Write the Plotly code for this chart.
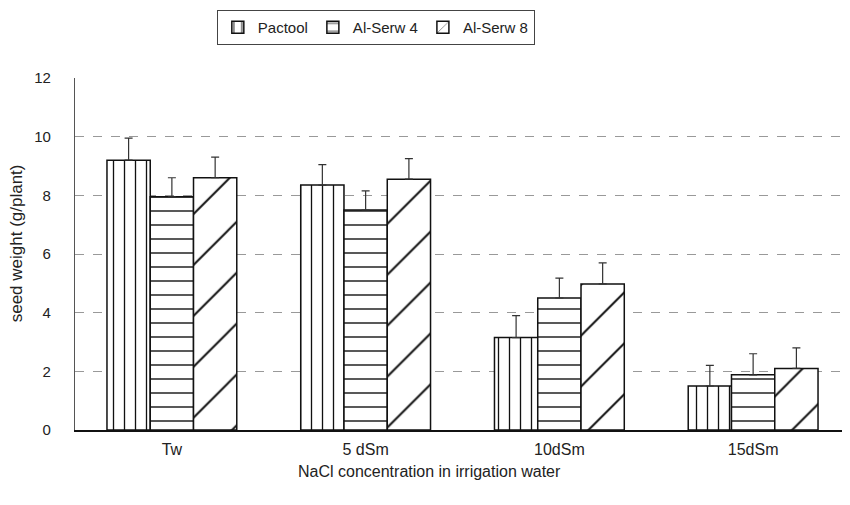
import plotly.graph_objects as go

categories = ["Tw", "5 dSm", "10dSm", "15dSm"]
series_names = ["Pactool", "Al-Serw 4", "Al-Serw 8"]
pactool = [9.2, 8.35, 3.15, 1.5]
alserw4 = [7.95, 7.5, 4.5, 1.88]
alserw8 = [8.6, 8.55, 4.98, 2.1]
err_pactool = [0.75, 0.7, 0.75, 0.7]
err_alserw4 = [0.65, 0.65, 0.68, 0.72]
err_alserw8 = [0.7, 0.7, 0.72, 0.7]
y_ticks = [0, 2, 4, 6, 8, 10, 12]
x_title = "NaCl concentration in irrigation water"
y_title = "seed weight (g/plant)"

values = [pactool, alserw4, alserw8]
errors = [err_pactool, err_alserw4, err_alserw8]
patterns = [
    dict(shape="|", size=11, solidity=0.12, fgcolor="#111", fgopacity=1, bgcolor="white"),
    dict(shape="-", size=14, solidity=0.1, fgcolor="#111", fgopacity=1, bgcolor="white"),
    dict(shape="/", size=36, solidity=0.055, fgcolor="#111", fgopacity=1, bgcolor="white"),
]

fig = go.Figure()
for name, vals, errs, pat in zip(series_names, values, errors, patterns):
    fig.add_trace(go.Bar(
        x=categories, y=vals, name=name,
        marker=dict(color="white", line=dict(color="#111", width=1.5), pattern=pat),
        error_y=dict(type="data", array=errs, symmetric=False, arrayminus=[0]*len(errs),
                     color="#333", thickness=1.2, width=4),
    ))

FONT = "Liberation Sans, Arial, sans-serif"
fig.update_layout(
    width=842, height=497,
    margin=dict(l=67, r=0, t=70, b=75, autoexpand=False),
    plot_bgcolor="white", paper_bgcolor="white",
    barmode="group", bargap=0.33, bargroupgap=0,
    font=dict(family=FONT, size=14, color="#222"),
    showlegend=True,
    legend=dict(orientation="h", x=0.183, y=1.193, xanchor="left", yanchor="top",
                bordercolor="#444", borderwidth=1, bgcolor="white",
                font=dict(size=15), itemwidth=30, tracegroupgap=0),
    xaxis=dict(showline=True, linecolor="#111", linewidth=1.8, ticks="",
               tickfont=dict(size=16), ticklabelstandoff=4),
    yaxis=dict(range=[0, 12], tickvals=y_ticks, showline=True, linecolor="#555", linewidth=1.2,
               ticks="", showgrid=True, gridcolor="#999", griddash="dash", gridwidth=1,
               zeroline=False, tickfont=dict(size=15), ticklabelstandoff=20),
    annotations=[
        dict(text=x_title, xref="paper", yref="paper", x=0.458, y=-0.118,
             xanchor="center", yanchor="middle", showarrow=False, font=dict(size=16)),
        dict(text=y_title, xref="paper", yref="paper", x=-0.075, y=0.53, textangle=-90,
             xanchor="center", yanchor="middle", showarrow=False, font=dict(size=17)),
    ],
)

fig.write_html("out.html")
